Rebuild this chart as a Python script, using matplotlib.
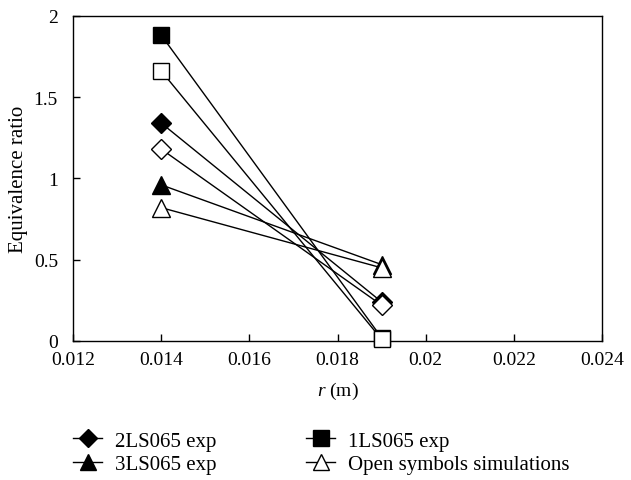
import matplotlib
matplotlib.use("Agg")
import matplotlib.pyplot as plt
from matplotlib.lines import Line2D

plt.rcParams["font.family"] = ["Liberation Serif", "DejaVu Serif"]
plt.rcParams["mathtext.fontset"] = "custom"
plt.rcParams["mathtext.it"] = "Liberation Serif:italic"

r = [0.014, 0.019]

ls1_exp = [1.88, 0.02]
ls1_sim = [1.66, 0.01]
ls2_exp = [1.34, 0.24]
ls2_sim = [1.18, 0.22]
ls3_exp = [0.96, 0.47]
ls3_sim = [0.82, 0.45]

x_ticks = [0.012, 0.014, 0.016, 0.018, 0.02, 0.022, 0.024]
x_labels = ["0.012", "0.014", "0.016", "0.018", "0.02", "0.022", "0.024"]
y_ticks = [0, 0.5, 1, 1.5, 2]
y_labels = ["0", "0.5", "1", "1.5", "2"]

fig = plt.figure(figsize=(6.31, 4.81), dpi=100)
ax = fig.add_axes([0.116, 0.289, 0.838, 0.676])

series = [
    (ls1_exp, "s", "black", 12),
    (ls1_sim, "s", "white", 12),
    (ls2_exp, "D", "black", 10),
    (ls2_sim, "D", "white", 10),
    (ls3_exp, "^", "black", 13),
    (ls3_sim, "^", "white", 13),
]
for vals, mk, fc, ms in series:
    ax.plot(r, vals, color="black", lw=1.0, marker=mk, markersize=ms,
            markerfacecolor=fc, markeredgecolor="black", markeredgewidth=1.0,
            clip_on=False, zorder=3)

ax.set_xlim(0.012, 0.024)
ax.set_ylim(0, 2)
ax.set_xticks(x_ticks)
ax.set_xticklabels(x_labels)
ax.set_yticks(y_ticks)
ax.set_yticklabels(y_labels)
ax.tick_params(direction="in", length=5, labelsize=14, width=1)
ax.tick_params(axis="x", pad=7)
ax.tick_params(axis="y", pad=11)
for s in ax.spines.values():
    s.set_linewidth(1)
ax.set_xlabel(r"$\mathit{r}$ (m)", fontsize=14, labelpad=9)
ax.set_ylabel("Equivalence ratio", fontsize=15, labelpad=4)

handles = [
    Line2D([], [], color="black", lw=1, marker="D", markersize=9,
           markerfacecolor="black"),
    Line2D([], [], color="black", lw=1, marker="^", markersize=11,
           markerfacecolor="black"),
    Line2D([], [], color="black", lw=1, marker="s", markersize=11,
           markerfacecolor="black"),
    Line2D([], [], color="black", lw=1, marker="^", markersize=11,
           markerfacecolor="white"),
]
labels = ["2LS065 exp", "3LS065 exp", "1LS065 exp", "Open symbols simulations"]
fig.legend(handles, labels, loc="upper left", bbox_to_anchor=(0.116, 0.102),
           ncol=2, frameon=False, fontsize=15, handlelength=1.4,
           columnspacing=4.3, labelspacing=0.2, handletextpad=0.6,
           borderpad=0, borderaxespad=0)

fig.savefig("out.png", dpi=100)
